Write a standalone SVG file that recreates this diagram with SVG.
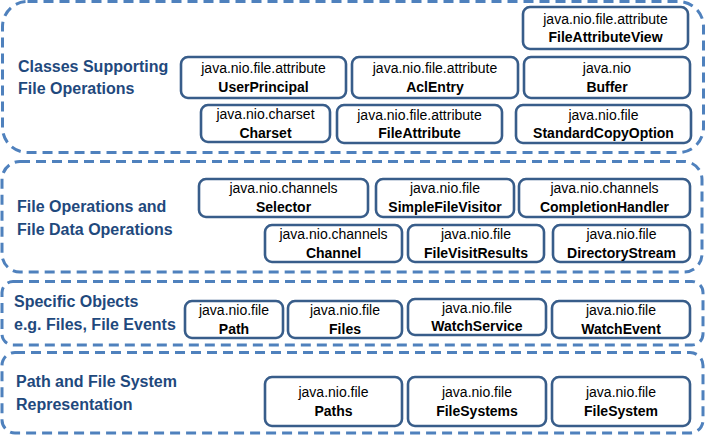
<svg xmlns="http://www.w3.org/2000/svg" width="707" height="435" viewBox="0 0 707 435">
<style>
.sec{fill:none;stroke:#4f81bd;stroke-width:3;stroke-dasharray:10 6}
.node rect{fill:#fff;stroke:#385d8a;stroke-width:2.6}
.pkg{font-family:"Liberation Sans",Arial,sans-serif;font-size:14px;fill:#000;text-anchor:middle}
.cls{font-family:"Liberation Sans",Arial,sans-serif;font-size:14px;font-weight:bold;fill:#000;text-anchor:middle}
.lbl{font-family:"Liberation Sans",Arial,sans-serif;font-size:16px;font-weight:bold;fill:#1f497d}
</style>
<rect fill="#fff" width="707" height="435"/>
<g id="section-classes">
<rect class="sec" x="2.5" y="1.5" width="701" height="151" rx="25"/>
<text class="lbl" x="18" y="72">Classes Supporting</text>
<text class="lbl" x="18" y="94">File Operations</text>
</g>
<g id="section-fileops">
<rect class="sec" x="2" y="161.5" width="700" height="110.5" rx="18"/>
<text class="lbl" x="17" y="212">File Operations and</text>
<text class="lbl" x="17" y="235">File Data Operations</text>
</g>
<g id="section-specific">
<rect class="sec" x="2" y="281.5" width="701" height="63.5" rx="11"/>
<text class="lbl" x="14" y="307">Specific Objects</text>
<text class="lbl" x="14" y="330">e.g. Files, File Events</text>
</g>
<g id="section-path">
<rect class="sec" x="2" y="352.5" width="701" height="80.5" rx="13"/>
<text class="lbl" x="16" y="387">Path and  File System</text>
<text class="lbl" x="16" y="410">Representation</text>
</g>
<g id="FileAttributeView" class="node"><rect x="523" y="7" width="165" height="42" rx="7"/><text class="pkg" x="605.5" y="23.5">java.nio.file.attribute</text><text class="cls" x="605.5" y="42">FileAttributeView</text></g>
<g id="UserPrincipal" class="node"><rect x="181" y="57" width="165" height="41" rx="7"/><text class="pkg" x="263.5" y="73">java.nio.file.attribute</text><text class="cls" x="263.5" y="91.5">UserPrincipal</text></g>
<g id="AclEntry" class="node"><rect x="352" y="57" width="166" height="41" rx="7"/><text class="pkg" x="435" y="73">java.nio.file.attribute</text><text class="cls" x="435" y="91.5">AclEntry</text></g>
<g id="Buffer" class="node"><rect x="524" y="57" width="166" height="41" rx="7"/><text class="pkg" x="607" y="73">java.nio</text><text class="cls" x="607" y="91.5">Buffer</text></g>
<g id="Charset" class="node"><rect x="201" y="105" width="129" height="37" rx="7"/><text class="pkg" x="265.5" y="119">java.nio.charset</text><text class="cls" x="265.5" y="137.5">Charset</text></g>
<g id="FileAttribute" class="node"><rect x="337" y="105" width="165" height="38" rx="7"/><text class="pkg" x="419.5" y="119.5">java.nio.file.attribute</text><text class="cls" x="419.5" y="138">FileAttribute</text></g>
<g id="StandardCopyOption" class="node"><rect x="516" y="105" width="175" height="38" rx="7"/><text class="pkg" x="603.5" y="119.5">java.nio.file</text><text class="cls" x="603.5" y="138">StandardCopyOption</text></g>
<g id="Selector" class="node"><rect x="199" y="179" width="169" height="38" rx="7"/><text class="pkg" x="283.5" y="193">java.nio.channels</text><text class="cls" x="283.5" y="212">Selector</text></g>
<g id="SimpleFileVisitor" class="node"><rect x="376" y="179" width="138" height="38" rx="7"/><text class="pkg" x="445" y="193">java.nio.file</text><text class="cls" x="445" y="212">SimpleFileVisitor</text></g>
<g id="CompletionHandler" class="node"><rect x="519" y="179" width="171" height="38" rx="7"/><text class="pkg" x="604.5" y="193">java.nio.channels</text><text class="cls" x="604.5" y="212">CompletionHandler</text></g>
<g id="Channel" class="node"><rect x="265" y="225" width="137" height="37" rx="7"/><text class="pkg" x="333.5" y="239">java.nio.channels</text><text class="cls" x="333.5" y="257.5">Channel</text></g>
<g id="FileVisitResults" class="node"><rect x="408" y="225" width="136" height="37" rx="7"/><text class="pkg" x="476" y="239">java.nio.file</text><text class="cls" x="476" y="257.5">FileVisitResults</text></g>
<g id="DirectoryStream" class="node"><rect x="553" y="225" width="137" height="37" rx="7"/><text class="pkg" x="621.5" y="239">java.nio.file</text><text class="cls" x="621.5" y="257.5">DirectoryStream</text></g>
<g id="Path" class="node"><rect x="185" y="301" width="98" height="37" rx="7"/><text class="pkg" x="234" y="315">java.nio.file</text><text class="cls" x="234" y="333.5">Path</text></g>
<g id="Files" class="node"><rect x="288" y="301" width="114" height="37" rx="7"/><text class="pkg" x="345" y="315">java.nio.file</text><text class="cls" x="345" y="333.5">Files</text></g>
<g id="WatchService" class="node"><rect x="408" y="299" width="138" height="36" rx="7"/><text class="pkg" x="477" y="312.5">java.nio.file</text><text class="cls" x="477" y="331">WatchService</text></g>
<g id="WatchEvent" class="node"><rect x="552" y="301" width="138" height="37" rx="7"/><text class="pkg" x="621" y="315">java.nio.file</text><text class="cls" x="621" y="333.5">WatchEvent</text></g>
<g id="Paths" class="node"><rect x="265" y="377" width="137" height="49" rx="7"/><text class="pkg" x="333.5" y="397">java.nio.file</text><text class="cls" x="333.5" y="415.5">Paths</text></g>
<g id="FileSystems" class="node"><rect x="408" y="377" width="138" height="49" rx="7"/><text class="pkg" x="477" y="397">java.nio.file</text><text class="cls" x="477" y="415.5">FileSystems</text></g>
<g id="FileSystem" class="node"><rect x="552" y="377" width="138" height="49" rx="7"/><text class="pkg" x="621" y="397">java.nio.file</text><text class="cls" x="621" y="415.5">FileSystem</text></g>
<g id="connectors"/>
</svg>
